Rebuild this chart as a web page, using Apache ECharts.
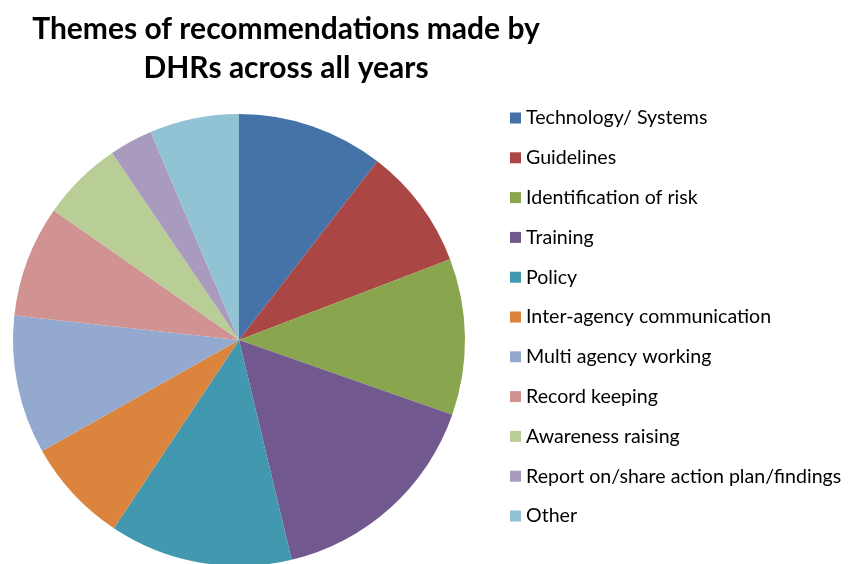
<!DOCTYPE html>
<html><head><meta charset="utf-8">
<script src="https://cdn.jsdelivr.net/npm/echarts@6/dist/echarts.min.js"></script>
<style>html,body{margin:0;padding:0;background:#fff}#c{width:850px;height:564px}</style>
</head><body><div id="c"></div>
<script>
const categories = ["Technology/ Systems","Guidelines","Identification of risk","Training","Policy","Inter-agency communication","Multi agency working","Record keeping","Awareness raising","Report on/share action plan/findings","Other"];
const values = [10.5, 8.7, 11.2, 15.9, 13.1, 7.5, 9.9, 8.0, 5.8, 3.1, 6.4];
const colors = ["#4572A7","#AA4643","#89A54E","#71588F","#4198AF","#DB843D","#93A9CF","#D19392","#B9CD96","#A99BBD","#92C3D4"];
const titleText = "Themes of recommendations made by\nDHRs across all years";

const chart = echarts.init(document.getElementById('c'), null, {renderer:'canvas'});
chart.setOption({
  animation:false,
  color: colors,
  title:{text:titleText,left:281,top:5,textAlign:'center',
    textStyle:{fontFamily:'Lato',fontWeight:'bold',fontSize:30,lineHeight:39,color:'#000'}},
  legend:{orient:'vertical',left:505,top:103,itemWidth:11,itemHeight:11,itemGap:19.8,icon:'rect',
    textStyle:{fontFamily:'Lato',fontSize:19.6,lineHeight:20,color:'#000'},
    data:categories},
  series:[{type:'pie',center:[239,340],radius:226,startAngle:90,clockwise:true,
    label:{show:false},labelLine:{show:false},emphasis:{disabled:true},
    itemStyle:{borderWidth:0},
    data:categories.map((n,i)=>({name:n,value:values[i]}))}]
});
</script></body></html>
